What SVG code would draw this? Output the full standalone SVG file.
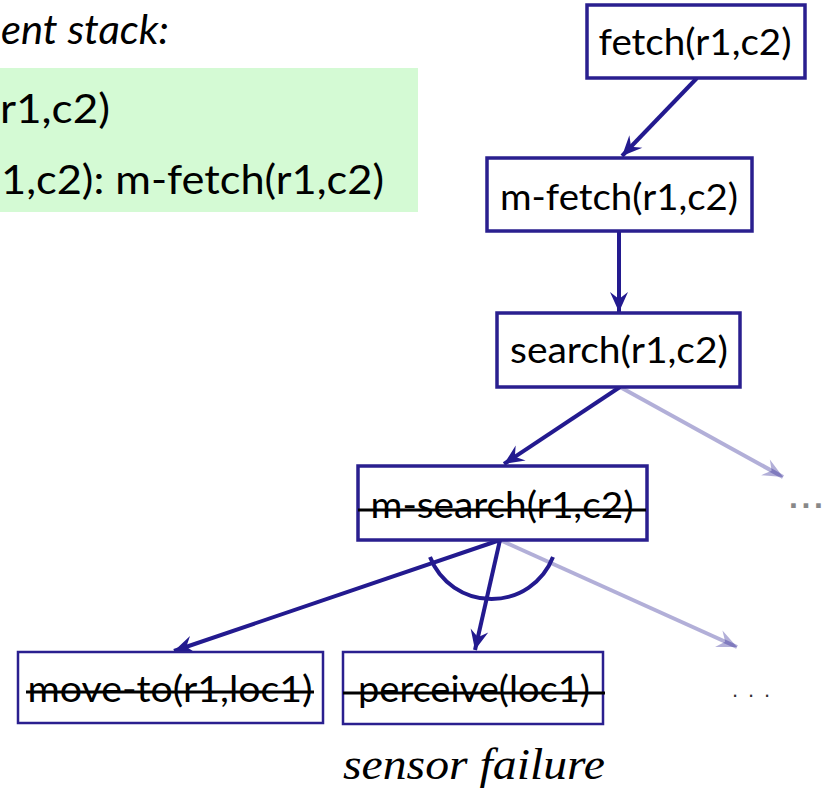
<svg xmlns="http://www.w3.org/2000/svg" width="827" height="799" viewBox="0 0 827 799">
  <style>
    .node { fill: #ffffff; stroke: #2a1f8f; stroke-width: 3.5; }
    .leaf { fill: #ffffff; stroke: #2a1f8f; stroke-width: 2.5; }
    .label { font-family: Lato, "Open Sans", "Liberation Sans", sans-serif; font-size: 37px; fill: #000; text-anchor: middle; }
    .stack { font-family: Lato, "Open Sans", "Liberation Sans", sans-serif; font-size: 41px; fill: #000; }
    .strike { stroke: #000; stroke-width: 3; }
    .edge { fill: none; stroke: #231a8f; stroke-width: 4; marker-end: url(#head); }
    .edge-dim { fill: none; stroke: #231a8f; stroke-opacity: 0.35; stroke-width: 4; marker-end: url(#head-dim); }
  </style>
  <defs>
    <marker id="head" viewBox="-21 -10 22 20" refX="0" refY="0" markerWidth="22" markerHeight="20" markerUnits="userSpaceOnUse" orient="auto">
      <path d="M0,0 L-20,-9 L-13,0 L-20,9 Z" fill="#231a8f"/>
    </marker>
    <marker id="head-dim" viewBox="-21 -10 22 20" refX="0" refY="0" markerWidth="22" markerHeight="20" markerUnits="userSpaceOnUse" orient="auto">
      <path d="M0,0 L-20,-9 L-13,0 L-20,9 Z" fill="#231a8f" fill-opacity="0.35"/>
    </marker>
  </defs>

  <!-- stack panel -->
  <g id="stack-panel">
    <text x="1" y="44" class="stack" font-style="italic" textLength="168" lengthAdjust="spacingAndGlyphs">ent stack:</text>
    <rect x="0" y="68" width="418" height="144" fill="#d4fad4"/>
    <text x="0" y="123" class="stack" textLength="110" lengthAdjust="spacingAndGlyphs">r1,c2)</text>
    <text x="1" y="194" class="stack" textLength="383" lengthAdjust="spacingAndGlyphs">1,c2): m-fetch(r1,c2)</text>
  </g>

  <!-- connectors -->
  <g id="connectors">
    <path class="edge" d="M697,78 L622,156"/>
    <path class="edge" d="M619,231 L619,312"/>
    <path class="edge" d="M620,387 L504,464"/>
    <path class="edge-dim" d="M620,387 L783,477"/>
    <path class="edge" d="M500,540 L174,651"/>
    <path class="edge" d="M500,540 L475,650"/>
    <path class="edge-dim" d="M500,540 L737,647"/>
    <path d="M430,557 A66,66 0 0 0 553,557" fill="none" stroke="#231a8f" stroke-width="4"/>
  </g>

  <g id="fetch">
    <rect class="node" x="587" y="5" width="218" height="73"/>
    <text class="label" x="695" y="55" textLength="193" lengthAdjust="spacingAndGlyphs">fetch(r1,c2)</text>
  </g>

  <g id="m-fetch">
    <rect class="node" x="487" y="158" width="265" height="73"/>
    <text class="label" x="619" y="210" textLength="238" lengthAdjust="spacingAndGlyphs">m-fetch(r1,c2)</text>
  </g>

  <g id="search">
    <rect class="node" x="497" y="313" width="243" height="74"/>
    <text class="label" x="619" y="363" textLength="218" lengthAdjust="spacingAndGlyphs">search(r1,c2)</text>
  </g>

  <g id="m-search">
    <rect class="node" x="358" y="466" width="289" height="74"/>
    <text class="label" x="502" y="518" textLength="263" lengthAdjust="spacingAndGlyphs">m-search(r1,c2)</text>
    <line class="strike" x1="358" y1="510" x2="646" y2="510"/>
  </g>

  <g id="move-to">
    <rect class="leaf" x="18" y="652" width="305" height="71"/>
    <text class="label" x="170" y="702" textLength="285" lengthAdjust="spacingAndGlyphs">move-to(r1,loc1)</text>
    <line class="strike" x1="26" y1="692" x2="314" y2="692"/>
  </g>

  <g id="perceive">
    <rect class="leaf" x="343" y="652" width="260" height="72"/>
    <text class="label" x="474" y="702" textLength="232" lengthAdjust="spacingAndGlyphs">perceive(loc1)</text>
    <line class="strike" x1="343" y1="693" x2="605" y2="693"/>
  </g>

  <!-- elided siblings -->
  <g id="more-search">
    <text x="789" y="508" font-family="Liberation Sans, sans-serif" font-size="32" font-weight="bold" fill="#888888" textLength="34" lengthAdjust="spacing">...</text>
  </g>
  <g id="more-m-search">
    <text x="732" y="697" font-family="Liberation Sans, sans-serif" font-size="22" fill="#333333" textLength="38" lengthAdjust="spacing">...</text>
  </g>

  <text id="sensor-failure" x="343" y="779" font-family="Liberation Serif, serif" font-style="italic" font-size="44" textLength="262" lengthAdjust="spacingAndGlyphs">sensor failure</text>
</svg>
